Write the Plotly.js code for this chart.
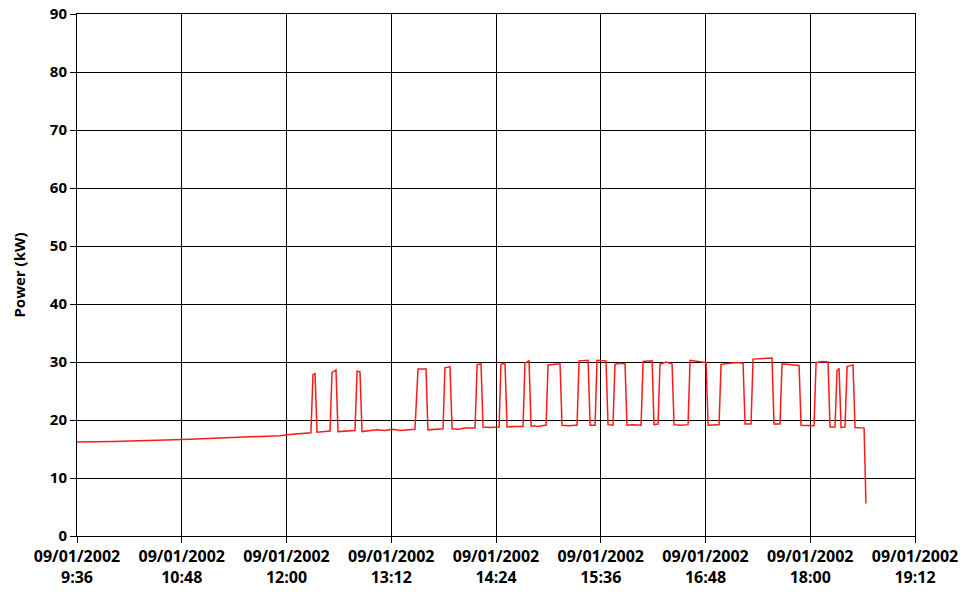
<!DOCTYPE html>
<html>
<head>
<meta charset="utf-8">
<script src="https://cdn.plot.ly/plotly-3.0.1.min.js"></script>
<style>html,body{margin:0;padding:0;background:#fff}#chart{width:971px;height:592px}</style>
</head>
<body>
<div id="chart"></div>
<script>
// time in minutes since midnight on 09/01/2002
var timeMin = [
576.0,583.0,591.8,601.0,612.4,622.0,633.0,643.0,653.7,664.0,674.3,684.0,694.9,705.0,715.5,722.0,729.3,736.2,
736.8,738.2,739.6,741.0,748.5,
749.9,751.3,754.0,755.4,763.6,766.4,
767.1,768.5,770.5,771.9,777.4,782.0,787.7,793.0,798.0,803.0,807.6,
808.3,810.4,815.9,817.2,825.5,826.9,
827.6,828.9,832.4,833.8,838.0,842.7,848.9,
849.6,851.0,853.7,855.1,860.0,865.4,
866.1,867.4,870.2,871.6,876.0,881.9,
882.6,883.9,886.7,888.1,893.0,897.7,
898.4,899.8,904.6,908.0,909.4,914.0,919.0,
919.7,921.1,927.3,928.7,931.4,
932.1,933.4,939.6,941.0,943.8,
944.4,945.8,949.3,952.7,954.0,958.0,963.0,
963.7,965.1,971.3,972.6,974.7,
975.4,976.7,980.9,985.0,986.4,991.0,995.3,
996.0,997.4,1000.8,1004.2,1008.4,1009.8,1013.0,1016.6,
1017.3,1018.7,1024.9,1029.0,1033.8,1035.2,1038.6,
1039.3,1040.7,1048.9,1053.7,1055.1,1058.5,
1059.2,1060.6,1066.1,1072.3,1073.7,1078.0,1081.9,
1082.6,1084.0,1088.0,1092.2,1093.6,1096.4,
1097.0,1098.4,1099.8,1101.2,1103.2,
1103.9,1105.3,1109.4,1110.8,1114.0,1117.0,1118.3
];
var powerKW = [
16.2,16.2,16.3,16.3,16.4,16.5,16.5,16.6,16.7,16.8,16.9,17.0,17.1,17.2,17.3,17.5,17.6,17.7,
17.8,27.8,28.0,17.9,18.0,
18.1,28.2,28.6,18.0,18.1,18.2,
18.2,28.4,28.3,18.0,18.1,18.3,18.2,18.4,18.2,18.3,18.4,
18.4,28.8,28.8,18.3,18.4,18.5,
18.5,29.0,29.2,18.5,18.4,18.6,18.6,
18.6,29.5,29.7,18.8,18.7,18.8,
18.8,29.6,29.8,18.8,18.9,18.9,
18.9,29.8,30.2,19.0,18.9,19.1,
19.1,29.5,29.6,29.7,19.1,19.0,19.1,
19.1,30.2,30.3,19.1,19.1,
19.1,30.3,30.2,19.2,19.1,
19.1,29.6,29.8,29.7,19.1,19.2,19.1,
19.1,30.1,30.2,19.2,19.3,
19.3,29.6,30.0,29.7,19.2,19.1,19.2,
19.2,30.3,30.2,30.0,29.9,19.1,19.2,19.2,
19.2,29.6,29.8,29.9,29.8,19.3,19.3,
19.3,30.5,30.6,30.7,19.3,19.3,
19.3,29.7,29.6,29.4,19.1,19.1,19.0,
19.0,29.9,30.1,30.0,18.8,18.8,
18.8,28.5,28.9,18.7,18.7,
18.8,29.2,29.5,18.7,18.6,18.6,5.6
];
var tickMin = [576,648,720,792,864,936,1008,1080,1152];
var tickLabels = [
"09/01/2002<br>9:36","09/01/2002<br>10:48","09/01/2002<br>12:00",
"09/01/2002<br>13:12","09/01/2002<br>14:24","09/01/2002<br>15:36",
"09/01/2002<br>16:48","09/01/2002<br>18:00","09/01/2002<br>19:12"
];
var yTicks = [0,10,20,30,40,50,60,70,80,90];

var fontFam = "'Open Sans', 'DejaVu Sans', sans-serif";
var trace = {
  x: timeMin, y: powerKW, type: 'scatter', mode: 'lines',
  line: {color: '#ff1a1a', width: 1.5}, hoverinfo: 'skip'
};
var layout = {
  width: 971, height: 592,
  margin: {l: 77, r: 56, t: 14, b: 56},
  paper_bgcolor: '#ffffff', plot_bgcolor: '#ffffff',
  showlegend: false,
  font: {family: fontFam, color: '#000', size: 13, weight: 700},
  xaxis: {
    type: 'linear', range: [576, 1152], tickvals: tickMin, ticktext: tickLabels,
    showgrid: true, gridcolor: '#000', gridwidth: 1,
    showline: true, linecolor: '#000', linewidth: 1, mirror: true,
    ticks: 'outside', ticklen: 6, tickcolor: '#000',
    tickfont: {family: fontFam, size: 16, color: '#000', weight: 700},
    zeroline: false, fixedrange: true
  },
  yaxis: {
    range: [0, 90], tickvals: yTicks,
    showgrid: true, gridcolor: '#000', gridwidth: 1,
    showline: true, linecolor: '#000', linewidth: 1, mirror: true,
    ticks: 'outside', ticklen: 6, tickcolor: '#000',
    tickfont: {family: fontFam, size: 15, color: '#000', weight: 700},
    title: {text: 'Power (kW)', font: {family: fontFam, size: 15, color: '#000', weight: 700}, standoff: 20},
    zeroline: false, fixedrange: true
  }
};
Plotly.newPlot('chart', [trace], layout, {displayModeBar: false, staticPlot: true});
</script>
</body>
</html>
